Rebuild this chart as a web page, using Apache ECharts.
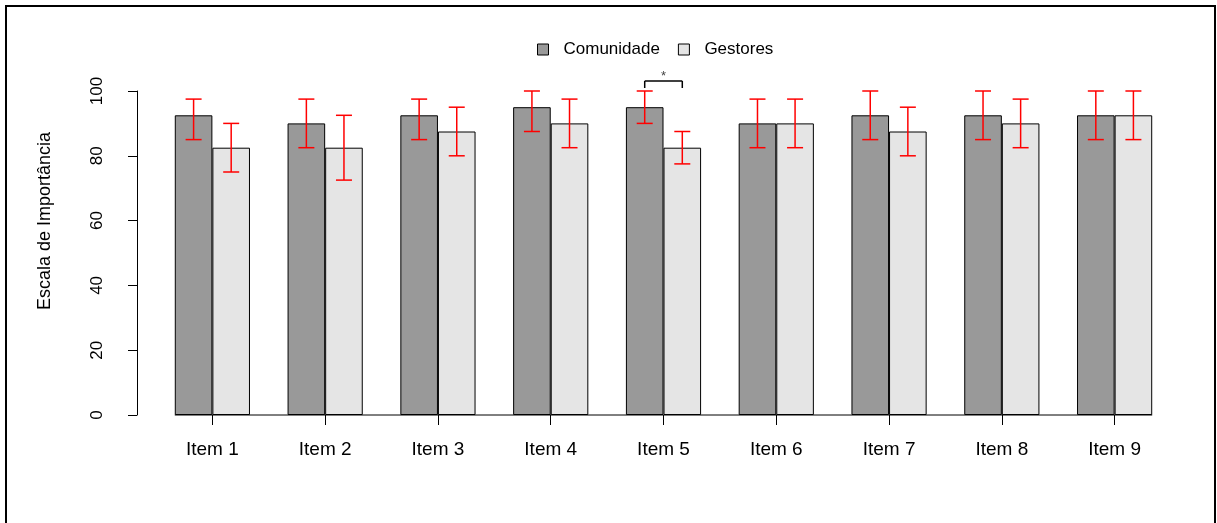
<!DOCTYPE html>
<html>
<head>
<meta charset="utf-8">
<script src="https://cdn.jsdelivr.net/npm/echarts@6/dist/echarts.min.js"></script>
<style>
  html, body { margin: 0; padding: 0; background: #fff; }
  #chart { width: 1217px; height: 523px; }
</style>
</head>
<body>
<div id="chart"></div>
<script>
// Importance scale (0-100) per item, with lower/upper limits of the error bars
const categories = ['Item 1', 'Item 2', 'Item 3', 'Item 4', 'Item 5', 'Item 6', 'Item 7', 'Item 8', 'Item 9'];
const comunidade     = [92.5, 90,   92.5, 95,   95,   90,   92.5, 92.5, 92.5];
const comunidadeLow  = [85,   82.5, 85,   87.5, 90,   82.5, 85,   85,   85];
const comunidadeHigh = [97.5, 97.5, 97.5, 100,  100,  97.5, 100,  100,  100];
const gestores       = [82.5, 82.5, 87.5, 90,   82.5, 90,   87.5, 90,   92.5];
const gestoresLow    = [75,   72.5, 80,   82.5, 77.5, 82.5, 80,   82.5, 85];
const gestoresHigh   = [90,   92.5, 95,   97.5, 87.5, 97.5, 95,   97.5, 100];
const yTicks = [0, 20, 40, 60, 80, 100];
// Items with a significant difference between the groups
const sigItems = ['Item 5'];
const sigMarks = ['*'];

const FONT = '"Liberation Sans", Arial, sans-serif';
const chart = echarts.init(document.getElementById('chart'));

function segment(x1, y1, x2, y2, color, width) {
  return { type: 'line', shape: { x1, y1, x2, y2 }, style: { stroke: color, lineWidth: width } };
}

// Error bar for one group; side = -1 (left bar) or +1 (right bar)
function errorBars(low, high, side) {
  return {
    type: 'custom',
    silent: true,
    clip: false,
    z: 10,
    data: categories.map((c, i) => [i, low[i], high[i]]),
    renderItem: function (params, api) {
      const band = api.size([1, 0])[0];
      const x = api.coord([api.value(0), 0])[0] + side * band / 6;
      const yl = api.coord([api.value(0), api.value(1)])[1];
      const yh = api.coord([api.value(0), api.value(2)])[1];
      const cap = 8;
      const red = '#ff0000';
      return {
        type: 'group',
        children: [
          segment(x, yh, x, yl, red, 1.5),
          segment(x - cap, yh, x + cap, yh, red, 1.5),
          segment(x - cap, yl, x + cap, yl, red, 1.5)
        ]
      };
    }
  };
}

const option = {
  animation: false,
  backgroundColor: '#ffffff',
  textStyle: { fontFamily: FONT },
  grid: { left: 156, right: 46, top: 91, bottom: 108 },
  legend: {
    data: ['Comunidade', 'Gestores'],
    left: 532,
    top: 36,
    icon: 'rect',
    itemWidth: 11,
    itemHeight: 11,
    itemGap: 18,
    itemStyle: { borderColor: '#000', borderWidth: 1 },
    textStyle: { fontFamily: FONT, fontSize: 17, color: '#000', padding: [0, 0, 0, 10] }
  },
  xAxis: {
    type: 'category',
    data: categories,
    axisLine: { show: false },
    axisTick: { show: true, alignWithLabel: true, length: 10, lineStyle: { color: '#000', width: 1 } },
    axisLabel: { fontFamily: FONT, fontSize: 19, color: '#000', margin: 25 },
    splitLine: { show: false }
  },
  yAxis: {
    type: 'value',
    min: 0,
    max: 100,
    interval: 20,
    offset: 19,
    axisLine: { show: true, lineStyle: { color: '#000', width: 1 } },
    axisTick: { show: true, length: 9, lineStyle: { color: '#000', width: 1 } },
    axisLabel: {
      fontFamily: FONT, fontSize: 17, color: '#000', rotate: 90, margin: 31,
      formatter: v => (yTicks.indexOf(v) >= 0 ? String(v) : '')
    },
    splitLine: { show: false }
  },
  graphic: [
    {
      type: 'rect',
      silent: true,
      shape: { x: 6, y: 6, width: 1209, height: 560 },
      style: { fill: 'none', stroke: '#000', lineWidth: 2 }
    },
    {
      type: 'text',
      silent: true,
      x: 45,
      y: 221,
      rotation: Math.PI / 2,
      style: {
        text: 'Escala de Importância',
        fontFamily: FONT,
        fontSize: 18,
        fill: '#000',
        align: 'center',
        verticalAlign: 'middle'
      }
    }
  ],
  series: [
    {
      name: 'Comunidade',
      type: 'bar',
      data: comunidade,
      barGap: '0%',
      barCategoryGap: '33.333%',
      itemStyle: { color: '#999999', borderColor: '#000', borderWidth: 1 }
    },
    {
      name: 'Gestores',
      type: 'bar',
      data: gestores,
      itemStyle: { color: '#e5e5e5', borderColor: '#000', borderWidth: 1 }
    },
    errorBars(comunidadeLow, comunidadeHigh, -1),
    errorBars(gestoresLow, gestoresHigh, 1),
    // Baseline under the bars, from the first bar to the last
    {
      type: 'custom',
      silent: true,
      clip: false,
      z: 5,
      data: [[0]],
      renderItem: function (params, api) {
        const band = api.size([1, 0])[0];
        const x0 = api.coord([0, 0])[0] - band / 3;
        const x1 = api.coord([categories.length - 1, 0])[0] + band / 3;
        const y = api.coord([0, 0])[1];
        return segment(x0, y, x1, y, '#000', 1);
      }
    },
    // Significance brackets between the two groups
    {
      type: 'custom',
      silent: true,
      clip: false,
      z: 10,
      data: sigItems.map((item, k) => {
        const i = categories.indexOf(item);
        return [i, Math.max(comunidadeHigh[i], gestoresHigh[i]), k];
      }),
      renderItem: function (params, api) {
        const band = api.size([1, 0])[0];
        const xc = api.coord([api.value(0), 0])[0];
        const xa = xc - band / 6;
        const xb = xc + band / 6;
        const yTop = api.coord([api.value(0), api.value(1)])[1] - 10;
        const leg = 7;
        return {
          type: 'group',
          children: [
            segment(xa, yTop + leg, xa, yTop, '#000', 1.5),
            segment(xa, yTop, xb, yTop, '#000', 1.5),
            segment(xb, yTop, xb, yTop + leg, '#000', 1.5),
            {
              type: 'text',
              x: xc,
              y: yTop + 2,
              style: {
                text: sigMarks[api.value(2)],
                fontFamily: FONT,
                fontSize: 13,
                fill: '#444',
                align: 'center',
                verticalAlign: 'bottom'
              }
            }
          ]
        };
      }
    }
  ]
};

chart.setOption(option);
</script>
</body>
</html>
